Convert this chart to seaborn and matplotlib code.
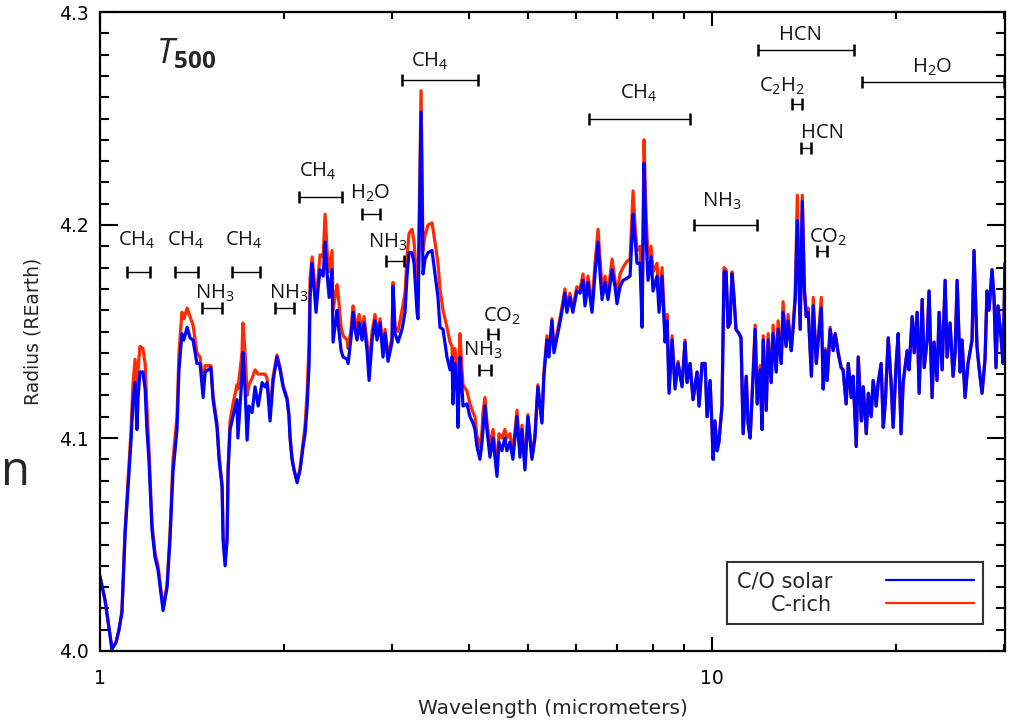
import matplotlib
matplotlib.use("Agg")
import matplotlib.pyplot as plt
import numpy as np
import pandas as pd
import seaborn as sns
from matplotlib.ticker import FixedLocator, FixedFormatter, NullFormatter
from matplotlib.lines import Line2D

# ---------------- data ----------------
wavelength = [
    1.000, 1.019, 1.046, 1.062, 1.074, 1.086, 1.099, 1.111, 1.124, 1.132,
    1.141, 1.149, 1.154, 1.162, 1.175, 1.185, 1.193, 1.202, 1.216, 1.230,
    1.244, 1.268, 1.287, 1.301, 1.316, 1.336, 1.346, 1.361, 1.371, 1.388,
    1.403, 1.419, 1.440, 1.457, 1.474, 1.485, 1.502, 1.518, 1.530, 1.553,
    1.565, 1.583, 1.589, 1.601, 1.613, 1.619, 1.631, 1.649, 1.674, 1.680,
    1.706, 1.712, 1.726, 1.739, 1.752, 1.772, 1.792, 1.813, 1.840, 1.861,
    1.875, 1.896, 1.918, 1.946, 1.969, 1.991, 2.021, 2.036, 2.044, 2.059,
    2.075, 2.099, 2.123, 2.147, 2.163, 2.180, 2.196, 2.204, 2.221, 2.229,
    2.254, 2.271, 2.288, 2.315, 2.332, 2.350, 2.368, 2.394, 2.403, 2.440,
    2.449, 2.477, 2.496, 2.533, 2.543, 2.571, 2.591, 2.610, 2.630, 2.650,
    2.680, 2.700, 2.731, 2.752, 2.783, 2.814, 2.835, 2.868, 2.900, 2.922,
    2.955, 3.000, 3.011, 3.034, 3.068, 3.115, 3.150, 3.174, 3.198, 3.234,
    3.259, 3.296, 3.308, 3.346, 3.371, 3.396, 3.435, 3.487, 3.526, 3.566,
    3.593, 3.634, 3.689, 3.731, 3.759, 3.773, 3.802, 3.831, 3.845, 3.874,
    3.903, 3.918, 3.977, 4.022, 4.068, 4.098, 4.129, 4.176, 4.208, 4.224,
    4.255, 4.287, 4.336, 4.386, 4.452, 4.485, 4.536, 4.587, 4.622, 4.675,
    4.727, 4.800, 4.854, 4.891, 4.946, 5.002, 5.078, 5.135, 5.193, 5.272,
    5.312, 5.373, 5.413, 5.475, 5.516, 5.578, 5.641, 5.705, 5.748, 5.791,
    5.857, 5.923, 6.013, 6.085, 6.154, 6.200, 6.271, 6.366, 6.438, 6.512,
    6.561, 6.611, 6.685, 6.761, 6.864, 6.941, 6.993, 7.073, 7.153, 7.261,
    7.345, 7.429, 7.484, 7.540, 7.626, 7.684, 7.742, 7.800, 7.859, 7.948,
    8.008, 8.129, 8.191, 8.284, 8.378, 8.442, 8.506, 8.603, 8.699, 8.797,
    8.932, 9.032, 9.101, 9.205, 9.310, 9.451, 9.522, 9.631, 9.740, 9.814,
    9.925, 10.00, 10.04, 10.11, 10.19, 10.26, 10.38, 10.46, 10.54, 10.62,
    10.70, 10.78, 10.86, 10.94, 11.07, 11.15, 11.24, 11.37, 11.45, 11.54,
    11.67, 11.76, 11.85, 11.98, 12.07, 12.12, 12.26, 12.35, 12.49, 12.58,
    12.73, 12.82, 12.97, 13.06, 13.21, 13.31, 13.47, 13.57, 13.67, 13.78,
    13.93, 14.04, 14.15, 14.25, 14.36, 14.53, 14.63, 14.80, 14.91, 15.08,
    15.19, 15.31, 15.42, 15.59, 15.77, 15.89, 16.07, 16.25, 16.37, 16.56,
    16.69, 16.88, 17.00, 17.20, 17.33, 17.53, 17.66, 17.86, 18.00, 18.19,
    18.33, 18.54, 18.68, 18.89, 19.04, 19.18, 19.40, 19.61, 19.76, 19.99,
    20.14, 20.36, 20.52, 20.83, 20.98, 21.23, 21.39, 21.63, 21.79, 22.04,
    22.21, 22.46, 22.62, 22.88, 23.05, 23.31, 23.49, 23.76, 24.03, 24.21,
    24.48, 24.76, 24.95, 25.14, 25.42, 25.61, 25.90, 26.19, 26.59, 26.79,
    27.09, 27.30, 27.61, 27.92, 28.13, 28.34, 28.67, 28.88, 29.10, 29.32,
    29.66, 29.88, 30.10,
]

radius_solar = [
    4.035, 4.024, 4.001, 4.004, 4.010, 4.018, 4.055, 4.076, 4.099, 4.117,
    4.126, 4.104, 4.119, 4.131, 4.131, 4.123, 4.104, 4.090, 4.057, 4.044,
    4.038, 4.019, 4.030, 4.052, 4.084, 4.104, 4.132, 4.149, 4.146, 4.152,
    4.147, 4.146, 4.135, 4.135, 4.119, 4.131, 4.132, 4.133, 4.118, 4.105,
    4.090, 4.077, 4.052, 4.040, 4.052, 4.084, 4.104, 4.110, 4.118, 4.100,
    4.129, 4.140, 4.123, 4.099, 4.115, 4.112, 4.124, 4.115, 4.126, 4.124,
    4.126, 4.108, 4.127, 4.138, 4.132, 4.124, 4.118, 4.110, 4.100, 4.090,
    4.085, 4.079, 4.085, 4.096, 4.102, 4.115, 4.135, 4.166, 4.182, 4.176,
    4.159, 4.170, 4.179, 4.176, 4.192, 4.177, 4.166, 4.179, 4.145, 4.160,
    4.154, 4.141, 4.138, 4.137, 4.135, 4.147, 4.159, 4.151, 4.146, 4.154,
    4.146, 4.154, 4.141, 4.127, 4.146, 4.155, 4.146, 4.154, 4.138, 4.149,
    4.136, 4.145, 4.171, 4.149, 4.145, 4.151, 4.159, 4.176, 4.187, 4.187,
    4.182, 4.159, 4.156, 4.253, 4.177, 4.184, 4.187, 4.188, 4.177, 4.166,
    4.152, 4.151, 4.138, 4.132, 4.138, 4.116, 4.135, 4.123, 4.105, 4.138,
    4.124, 4.115, 4.116, 4.110, 4.107, 4.104, 4.096, 4.090, 4.098, 4.104,
    4.115, 4.104, 4.091, 4.100, 4.082, 4.098, 4.094, 4.100, 4.094, 4.098,
    4.090, 4.110, 4.091, 4.104, 4.085, 4.110, 4.090, 4.100, 4.124, 4.107,
    4.129, 4.146, 4.138, 4.155, 4.140, 4.147, 4.154, 4.162, 4.168, 4.159,
    4.166, 4.159, 4.169, 4.168, 4.174, 4.162, 4.173, 4.159, 4.177, 4.192,
    4.177, 4.165, 4.173, 4.165, 4.179, 4.171, 4.163, 4.171, 4.174, 4.175,
    4.176, 4.205, 4.194, 4.182, 4.182, 4.152, 4.229, 4.194, 4.174, 4.185,
    4.169, 4.176, 4.159, 4.176, 4.145, 4.155, 4.121, 4.146, 4.123, 4.135,
    4.124, 4.145, 4.126, 4.135, 4.118, 4.131, 4.115, 4.135, 4.135, 4.110,
    4.127, 4.104, 4.090, 4.108, 4.094, 4.098, 4.115, 4.178, 4.178, 4.152,
    4.154, 4.177, 4.166, 4.151, 4.149, 4.147, 4.102, 4.129, 4.107, 4.100,
    4.129, 4.151, 4.116, 4.132, 4.104, 4.146, 4.113, 4.146, 4.126, 4.149,
    4.131, 4.151, 4.135, 4.159, 4.143, 4.155, 4.141, 4.152, 4.165, 4.202,
    4.151, 4.211, 4.169, 4.157, 4.159, 4.129, 4.162, 4.135, 4.146, 4.161,
    4.123, 4.141, 4.127, 4.151, 4.141, 4.149, 4.140, 4.133, 4.132, 4.116,
    4.135, 4.119, 4.129, 4.096, 4.138, 4.108, 4.124, 4.102, 4.121, 4.110,
    4.127, 4.115, 4.126, 4.135, 4.105, 4.116, 4.147, 4.126, 4.105, 4.135,
    4.149, 4.102, 4.126, 4.141, 4.132, 4.157, 4.140, 4.159, 4.121, 4.165,
    4.133, 4.146, 4.169, 4.119, 4.145, 4.127, 4.159, 4.132, 4.174, 4.138,
    4.154, 4.129, 4.140, 4.174, 4.131, 4.146, 4.119, 4.135, 4.146, 4.188,
    4.143, 4.133, 4.121, 4.137, 4.169, 4.160, 4.179, 4.166, 4.133, 4.162,
    4.147, 4.135, 4.182,
]

radius_crich = [
    4.035, 4.024, 4.001, 4.004, 4.010, 4.019, 4.057, 4.080, 4.104, 4.125,
    4.137, 4.125, 4.132, 4.143, 4.142, 4.135, 4.115, 4.095, 4.060, 4.046,
    4.040, 4.020, 4.031, 4.055, 4.090, 4.110, 4.140, 4.159, 4.156, 4.161,
    4.157, 4.153, 4.140, 4.138, 4.125, 4.134, 4.134, 4.134, 4.120, 4.107,
    4.092, 4.078, 4.054, 4.042, 4.054, 4.086, 4.108, 4.116, 4.125, 4.123,
    4.140, 4.154, 4.140, 4.120, 4.125, 4.128, 4.132, 4.130, 4.130, 4.130,
    4.128, 4.112, 4.129, 4.139, 4.133, 4.125, 4.119, 4.111, 4.101, 4.091,
    4.085, 4.080, 4.086, 4.098, 4.106, 4.122, 4.145, 4.175, 4.185, 4.180,
    4.165, 4.175, 4.186, 4.185, 4.205, 4.188, 4.178, 4.188, 4.160, 4.172,
    4.168, 4.152, 4.148, 4.146, 4.142, 4.151, 4.162, 4.156, 4.151, 4.158,
    4.150, 4.157, 4.145, 4.133, 4.150, 4.158, 4.149, 4.156, 4.141, 4.151,
    4.139, 4.147, 4.173, 4.152, 4.150, 4.160, 4.168, 4.185, 4.196, 4.198,
    4.192, 4.172, 4.166, 4.263, 4.188, 4.195, 4.200, 4.201, 4.192, 4.182,
    4.170, 4.160, 4.152, 4.145, 4.143, 4.130, 4.142, 4.132, 4.120, 4.149,
    4.132, 4.125, 4.122, 4.116, 4.112, 4.110, 4.101, 4.096, 4.103, 4.112,
    4.119, 4.108, 4.096, 4.104, 4.086, 4.102, 4.100, 4.104, 4.100, 4.102,
    4.093, 4.113, 4.094, 4.106, 4.087, 4.111, 4.091, 4.101, 4.125, 4.108,
    4.131, 4.148, 4.139, 4.156, 4.142, 4.149, 4.156, 4.164, 4.170, 4.162,
    4.168, 4.161, 4.171, 4.170, 4.177, 4.165, 4.176, 4.162, 4.182, 4.198,
    4.184, 4.170, 4.176, 4.168, 4.184, 4.174, 4.168, 4.177, 4.180, 4.183,
    4.184, 4.216, 4.200, 4.188, 4.190, 4.160, 4.240, 4.205, 4.185, 4.190,
    4.178, 4.182, 4.165, 4.180, 4.150, 4.158, 4.123, 4.148, 4.125, 4.136,
    4.125, 4.146, 4.126, 4.135, 4.118, 4.131, 4.115, 4.135, 4.135, 4.110,
    4.127, 4.104, 4.090, 4.108, 4.094, 4.098, 4.115, 4.180, 4.179, 4.152,
    4.154, 4.178, 4.166, 4.151, 4.149, 4.147, 4.102, 4.129, 4.107, 4.100,
    4.131, 4.153, 4.116, 4.134, 4.104, 4.148, 4.113, 4.149, 4.126, 4.153,
    4.131, 4.155, 4.135, 4.164, 4.143, 4.158, 4.141, 4.154, 4.167, 4.214,
    4.151, 4.214, 4.172, 4.157, 4.161, 4.129, 4.166, 4.135, 4.147, 4.166,
    4.123, 4.142, 4.127, 4.152, 4.141, 4.149, 4.140, 4.133, 4.132, 4.116,
    4.135, 4.119, 4.129, 4.096, 4.138, 4.108, 4.124, 4.102, 4.121, 4.110,
    4.127, 4.115, 4.126, 4.135, 4.105, 4.116, 4.147, 4.126, 4.105, 4.135,
    4.149, 4.102, 4.126, 4.141, 4.132, 4.157, 4.140, 4.159, 4.121, 4.165,
    4.133, 4.146, 4.169, 4.119, 4.145, 4.127, 4.159, 4.132, 4.174, 4.138,
    4.154, 4.129, 4.140, 4.174, 4.131, 4.146, 4.119, 4.135, 4.146, 4.188,
    4.143, 4.133, 4.121, 4.137, 4.169, 4.160, 4.179, 4.166, 4.133, 4.162,
    4.147, 4.135, 4.182,
]

series_names = ["C/O solar", "C-rich"]

# molecular band annotations: label, start, end (micrometers), bar level, label x, label y
band_labels = ["CH$_4$", "CH$_4$", "CH$_4$", "NH$_3$", "NH$_3$", "NH$_3$",
               "CH$_4$", "H$_2$O", "CH$_4$", "CH$_4$", "NH$_3$", "HCN",
               "H$_2$O", "C$_2$H$_2$", "HCN", "CO$_2$", "CO$_2$", "NH$_3$"]
band_start = [1.107, 1.326, 1.643, 1.468, 1.932, 2.934, 2.114, 2.681, 3.115,
              6.296, 9.345, 11.89, 17.59, 13.51, 13.98, 14.84, 4.305, 4.161]
band_end = [1.207, 1.446, 1.826, 1.583, 2.075, 3.139, 2.486, 2.868, 4.145,
            9.205, 11.84, 17.06, 30.0, 14.04, 14.53, 15.42, 4.469, 4.353]
band_level = [4.178, 4.178, 4.178, 4.161, 4.161, 4.183, 4.213, 4.205, 4.268,
              4.250, 4.200, 4.282, 4.267, 4.257, 4.236, 4.188, 4.149, 4.132]
label_x = [1.149, 1.382, 1.719, 1.542, 2.036, 2.955, 2.271, 2.762, 3.461,
           7.597, 10.38, 13.93, 22.88, 13.02, 15.12, 15.47, 4.536, 4.224]
label_y = [4.193, 4.193, 4.193, 4.168, 4.168, 4.192, 4.225, 4.215, 4.277,
           4.262, 4.211, 4.289, 4.274, 4.265, 4.243, 4.194, 4.157, 4.141]

# ---------------- styling ----------------
sns.set_style("white")
plt.rcParams["font.family"] = ["DejaVu Sans"]
plt.rcParams["mathtext.fontset"] = "custom"
plt.rcParams["mathtext.rm"] = "Open Sans"
plt.rcParams["mathtext.it"] = "Open Sans:italic"
plt.rcParams["mathtext.bf"] = "Open Sans:bold"

BLUE = "#0000FF"
RED = "#FF2A00"

fig = plt.figure(figsize=(10.18, 7.21), dpi=100)
ax = fig.add_axes([100 / 1018, 1 - 651 / 721, 905 / 1018, 639 / 721])

n = len(wavelength)
df = pd.DataFrame({
    "wavelength": wavelength + wavelength,
    "radius": radius_crich + radius_solar,
    "model": [series_names[1]] * n + [series_names[0]] * n,
})

sns.lineplot(data=df, x="wavelength", y="radius", hue="model",
             hue_order=[series_names[1], series_names[0]],
             palette={series_names[0]: BLUE, series_names[1]: RED},
             estimator=None, sort=False, linewidth=2.3, legend=False, ax=ax)

ax.set_xscale("log")
ax.set_xlim(1.0, 30.1)
ax.set_ylim(4.0, 4.3)

# ticks
ax.xaxis.set_major_locator(FixedLocator([1, 10]))
ax.xaxis.set_major_formatter(FixedFormatter(["1", "10"]))
ax.xaxis.set_minor_locator(FixedLocator([2, 3, 4, 5, 6, 7, 8, 9, 20, 30]))
ax.xaxis.set_minor_formatter(NullFormatter())
ax.yaxis.set_major_locator(FixedLocator([4.0, 4.1, 4.2, 4.3]))
ax.yaxis.set_major_formatter(FixedFormatter(["4.0", "4.1", "4.2", "4.3"]))
ax.yaxis.set_minor_locator(FixedLocator(np.arange(4.0, 4.3001, 0.01)))

ax.tick_params(axis="both", which="both", direction="in", top=True, right=True,
               bottom=True, left=True, width=1.5, colors="black",
               labelsize=13.5, labelcolor="black")
ax.tick_params(axis="x", which="major", length=10, pad=13)
ax.tick_params(axis="x", which="minor", length=5)
ax.tick_params(axis="y", which="major", length=13, pad=8)
ax.tick_params(axis="y", which="minor", length=6.5)
for s in ax.spines.values():
    s.set_linewidth(1.6)
    s.set_color("black")

ax.set_xlabel("Wavelength (micrometers)", fontsize=14.5, labelpad=8)
ax.set_ylabel("Radius (REarth)", fontsize=13.5, labelpad=12)

# band annotations
for lab, x0, x1, yl, tx, ty in zip(band_labels, band_start, band_end,
                                   band_level, label_x, label_y):
    c = np.sqrt(x0 * x1)
    ax.errorbar([c], [yl], xerr=[[c - x0], [x1 - c]], fmt="none",
                ecolor="black", elinewidth=1.0, capsize=4, capthick=1.8,
                zorder=4)
    ax.text(tx, ty, lab, fontsize=14.5, ha="center", va="center",
            family="Open Sans", color="#111111", zorder=5)

# panel label
ax.text(0.062, 0.935, r"$\mathit{T}_{\mathbf{500}}$", transform=ax.transAxes,
        fontsize=25, ha="left", va="center")

# glyph from the neighbouring panel at the left edge
fig.text(1 / 1018, 1 - 485 / 721, "n", fontsize=34,
         family=["Liberation Sans Narrow", "Open Sans"],
         ha="left", va="baseline")

# legend
handles = [Line2D([], [], color=BLUE, lw=1.6), Line2D([], [], color=RED, lw=1.6)]
leg = ax.legend(handles, series_names, loc="lower right",
                bbox_to_anchor=(0.976, 0.042), borderaxespad=0,
                markerfirst=False, handlelength=4.2, handletextpad=2.6,
                fontsize=15, frameon=True, fancybox=False,
                labelspacing=0.15, borderpad=0.45)
leg.get_frame().set_edgecolor("black")
leg.get_frame().set_linewidth(1.5)

fig.savefig("out.png", dpi=100)
